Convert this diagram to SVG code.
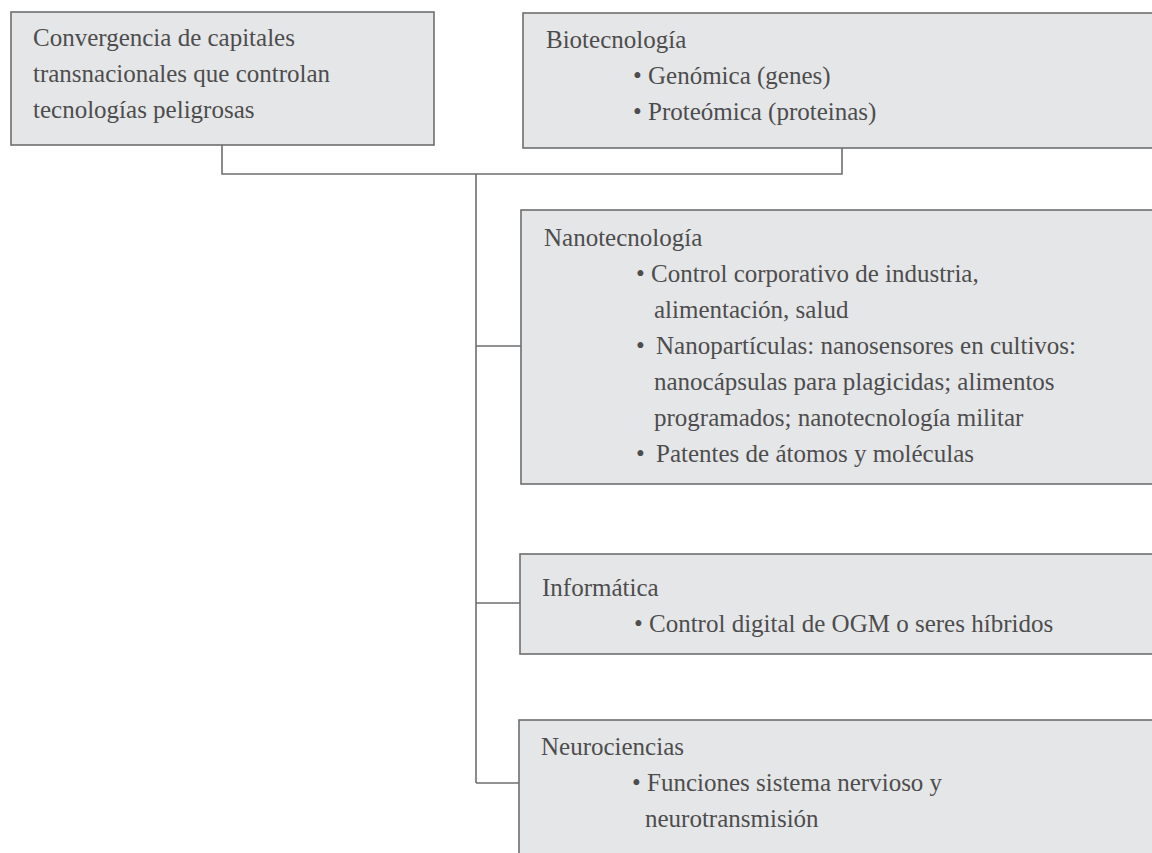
<svg xmlns="http://www.w3.org/2000/svg" width="1152" height="853" viewBox="0 0 1152 853">
  <style>
    .box { fill: #e5e6e8; stroke: #6e6e6e; stroke-width: 1.6; }
    .t { font-family: "Liberation Serif", "Times New Roman", serif; font-size: 25px; fill: #4d4d4d; }
    .conn { fill: none; stroke: #6e6e6e; stroke-width: 1.6; }
  </style>
  <rect x="0" y="0" width="1152" height="853" fill="#ffffff"/>
  <g id="connectors">
    <path class="conn" d="M222,145 V174 H842 V148"/>
    <path class="conn" d="M476,174 V783"/>
    <path class="conn" d="M476,346 H521"/>
    <path class="conn" d="M476,603 H520"/>
    <path class="conn" d="M476,783 H519"/>
  </g>
  <g id="node-convergencia">
    <rect class="box" x="11" y="12" width="423" height="133"/>
    <text class="t" x="33" y="46">Convergencia de capitales</text>
    <text class="t" x="33" y="82">transnacionales que controlan</text>
    <text class="t" x="33" y="118">tecnologías peligrosas</text>
  </g>
  <g id="node-biotecnologia">
    <rect class="box" x="523" y="13" width="640" height="135"/>
    <text class="t" x="546" y="48">Biotecnología</text>
    <text class="t" x="633" y="84">• Genómica (genes)</text>
    <text class="t" x="633" y="120">• Proteómica (proteinas)</text>
  </g>
  <g id="node-nanotecnologia">
    <rect class="box" x="521" y="210" width="642" height="274"/>
    <text class="t" x="544" y="246">Nanotecnología</text>
    <text class="t" x="636" y="282">• Control corporativo de industria,</text>
    <text class="t" x="654" y="318">alimentación, salud</text>
    <text class="t" x="636" y="354">•</text>
    <text class="t" x="656" y="354">Nanopartículas: nanosensores en cultivos:</text>
    <text class="t" x="654" y="390">nanocápsulas para plagicidas; alimentos</text>
    <text class="t" x="654" y="426">programados; nanotecnología militar</text>
    <text class="t" x="636" y="462">•</text>
    <text class="t" x="656" y="462">Patentes de átomos y moléculas</text>
  </g>
  <g id="node-informatica">
    <rect class="box" x="520" y="554" width="643" height="100"/>
    <text class="t" x="542" y="596">Informática</text>
    <text class="t" x="634" y="632">• Control digital de OGM o seres híbridos</text>
  </g>
  <g id="node-neurociencias">
    <rect class="box" x="519" y="720" width="644" height="140"/>
    <text class="t" x="541" y="755">Neurociencias</text>
    <text class="t" x="632" y="791">• Funciones sistema nervioso y</text>
    <text class="t" x="645" y="827">neurotransmisión</text>
  </g>
</svg>
